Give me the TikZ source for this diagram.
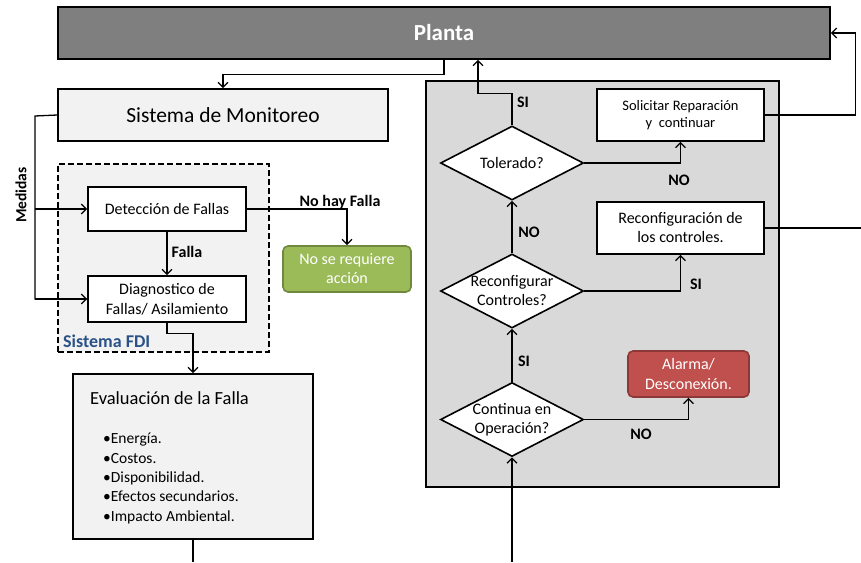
\documentclass[tikz,border=0pt]{standalone}
\usepackage{fontspec}
\setmainfont{Carlito}
\usetikzlibrary{arrows.meta,shapes.geometric}
\definecolor{plantagray}{HTML}{7F7F7F}
\definecolor{lightbg}{HTML}{F2F2F2}
\definecolor{panelgray}{HTML}{D9D9D9}
\definecolor{okgreen}{HTML}{9BBB59}
\definecolor{okgreenborder}{HTML}{71893F}
\definecolor{alarmred}{HTML}{C0504D}
\definecolor{alarmborder}{HTML}{8C3836}
\definecolor{fdiblue}{HTML}{2A5288}
\tikzset{
  box/.style={draw=black, line width=1.6pt, rectangle, inner sep=0pt, align=center, font=\fontsize{16}{20}\selectfont},
  dec/.style={draw=black, diamond, fill=white, line width=1.6pt, minimum width=143pt, minimum height=74pt, inner sep=0pt},
  dectext/.style={inner sep=0pt, align=center, font=\fontsize{16}{19}\selectfont},
  conn/.style={line width=1.3pt, -{Straight Barb[length=5pt,width=10pt,line width=1.3pt]}},
  plainline/.style={line width=1.3pt},
  lbl/.style={font=\bfseries\fontsize{16}{18}\selectfont, inner sep=0pt},
}
\begin{document}
\begin{tikzpicture}[x=1pt,y=-1pt]
\useasboundingbox (0,0) rectangle (861,562);
% backgrounds
\node[draw=black, line width=1.6pt, fill=panelgray, minimum width=353pt, minimum height=406pt, inner sep=0pt] (panel) at (602.5,284) {};
\node[draw=black, dashed, dash pattern=on 6pt off 3pt, line width=1.6pt, fill=lightbg, minimum width=211pt, minimum height=188pt, inner sep=0pt] (fdi) at (163.5,258) {};
\node[anchor=west, text=fdiblue, inner sep=0pt, font=\bfseries\fontsize{18}{20}\selectfont] (fdilabel) at (63,341) {Sistema FDI};
% main boxes
\node[box, fill=plantagray, minimum width=772pt, minimum height=52pt, text=white, font=\bfseries\fontsize{23}{26}\selectfont] (planta) at (444,33) {Planta};
\node[box, fill=lightbg, minimum width=330pt, minimum height=52pt, font=\fontsize{21.5}{24}\selectfont] (mon) at (223,115) {Sistema de Monitoreo};
\node[box, fill=white, minimum width=158pt, minimum height=44pt] (det) at (167,209) {Detección de Fallas};
\node[box, fill=white, minimum width=158pt, minimum height=46pt] (diag) at (167,299) {Diagnostico de\\Fallas/ Asilamiento};
\node[box, draw=okgreenborder, fill=okgreen, rounded corners=5pt, text=white, minimum width=128pt, minimum height=46pt, font=\fontsize{16}{19}\selectfont] (green) at (347,269) {No se requiere\\acción};
\node[box, fill=lightbg, minimum width=240pt, minimum height=165pt] (eval) at (193,456.5) {};
\node[anchor=west, inner sep=0pt, font=\fontsize{18.5}{22}\selectfont] (evaltitle) at (90,398) {Evaluación de la Falla};
\node[anchor=north west, inner sep=0pt, align=left, font=\fontsize{15.5}{19.4}\selectfont] (evallist) at (103,433) {•Energía.\\•Costos.\\•Disponibilidad.\\•Efectos secundarios.\\•Impacto Ambiental.};
% right panel
\node[dec] (tol) at (512,163) {};
\node[dectext] (toltext) at (tol.center) {Tolerado?};
\node[box, fill=white, minimum width=167pt, minimum height=52pt, font=\fontsize{14.5}{17.5}\selectfont] (solic) at (680.5,115) {Solicitar Reparación\\ y \ continuar};
\node[box, fill=white, minimum width=167pt, minimum height=52pt, font=\fontsize{16}{19}\selectfont] (recbox) at (680.5,228) {Reconfiguración de\\los controles.};
\node[dec] (rec) at (512,291) {};
\node[dectext] (rectext) at (rec.center) {Reconfigurar\\Controles?};
\node[dec] (cont) at (512,419.5) {};
\node[dectext] (conttext) at (cont.center) {Continua en\\Operación?};
\node[box, draw=alarmborder, fill=alarmred, rounded corners=5pt, text=white, minimum width=121pt, minimum height=46pt] (alarm) at (688.5,374) {Alarma/\\Desconexión.};
% coordinates
\coordinate (medx) at (35,116);
\coordinate (bot) at (512,562);
\coordinate (recout) at (861,228);
% connectors
\draw[conn] (planta.south) -- ++(0,15) -| (mon.north);
\draw[plainline] (mon.west) -- (medx) |- (diag.west);
\draw[conn] (medx |- diag.west) -- (diag.west);
\draw[conn] (medx |- det.west) -- (det.west);
\draw[conn] (det.south) -- (diag.north);
\draw[conn] (det.east) -| (green.north);
\draw[conn] (diag.south) -- ++(0,11) -| (eval.north);
\draw[plainline] (eval.south) -- (eval.south |- bot);
\draw[conn] (tol.north) -- ++(0,-32) -| ([xshift=34pt]planta.south);
\draw[conn] (tol.east) -| (solic.south);
\draw[conn] (solic.east) -- ++(91,0) |- (planta.east);
\draw[plainline] (recbox.east) -- (recout);
\draw[conn] (rec.north) -- (tol.south);
\draw[conn] (rec.east) -| (recbox.south);
\draw[conn] (cont.north) -- (rec.south);
\draw[conn] (cont.east) -| (alarm.south);
\draw[conn] (bot) -- (cont.south);
% labels
\node[lbl] (l1) at (523,102) {SI};
\node[lbl] (l2) at (679,180) {NO};
\node[lbl] (l3) at (529,232) {NO};
\node[lbl] (l4) at (696,284) {SI};
\node[lbl] (l5) at (524,361) {SI};
\node[lbl] (l6) at (641,434) {NO};
\node[lbl] (l7) at (187,252) {Falla};
\node[lbl] (l8) at (340,202) {No hay Falla};
\node[lbl, rotate=90, font=\bfseries\fontsize{15.5}{17}\selectfont] (l9) at (21,195) {Medidas};
\end{tikzpicture}
\end{document}
